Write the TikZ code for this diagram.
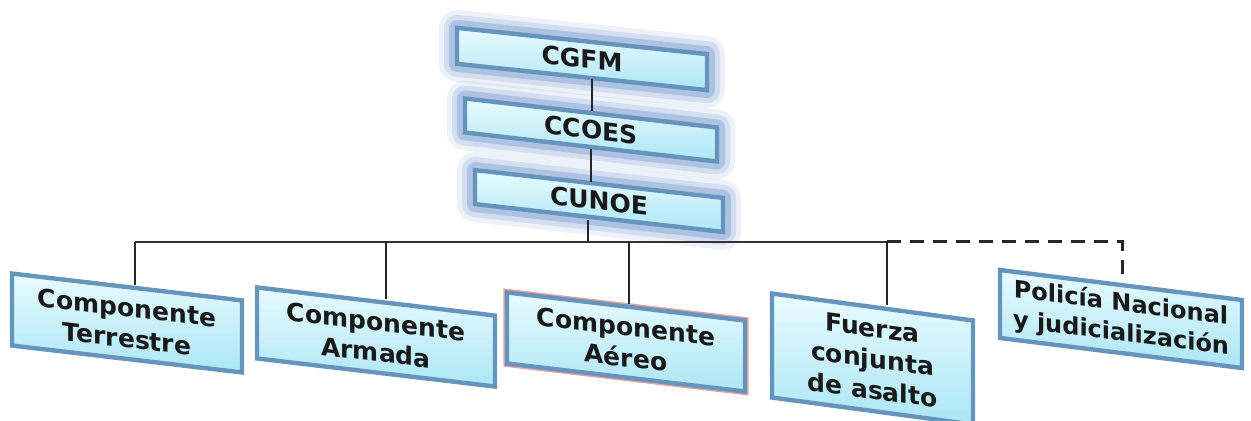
\documentclass[tikz,border=0pt]{standalone}
\usepackage{fontspec}
\setmainfont{DejaVu Sans}
\usetikzlibrary{calc}
\definecolor{boxedge}{HTML}{6595BD}
\definecolor{boxtop}{HTML}{E8FBFF}
\definecolor{boxbot}{HTML}{ACE6F5}
\definecolor{glowblue}{HTML}{6A90CC}
\definecolor{edgepink}{HTML}{E9A3A3}
\tikzset{
  unit/.style={draw=boxedge, line width=2.2pt, top color=boxtop, bottom color=boxbot,
    inner sep=0pt, align=center, text=black!90, yslant=#1,
    font=\bfseries\fontsize{12.5}{15.5}\selectfont},
  unit/.default=-0.115,
  glow/.style={
    preaction={draw=glowblue, line width=18pt, opacity=0.12, line join=round},
    preaction={draw=glowblue, line width=13pt, opacity=0.2, line join=round},
    preaction={draw=glowblue, line width=8pt, opacity=0.35, line join=round}},
  pinkrim/.style={preaction={draw=edgepink, line width=3.6pt}},
  link/.style={line width=1pt, black!85},
  bus/.style={line width=0.7pt, black!80},
  dashlink/.style={line width=1.5pt, black!85, dash pattern=on 7pt off 4.5pt},
}

\begin{document}
\begin{tikzpicture}[x=0.5pt,y=-0.5pt]
  \useasboundingbox (0,0) rectangle (1251,421);

  % command chain
  \node[unit=-0.105, glow, minimum width=125pt, minimum height=18pt] (cgfm) at (582,59) {CGFM};
  \node[unit, glow, minimum width=126pt, minimum height=17pt] (ccoes) at (591,130) {CCOES};
  \node[unit=-0.112, glow, minimum width=124pt, minimum height=17pt] (cunoe) at (599,201) {CUNOE};

  % components
  \node[unit=-0.117, minimum width=115pt, minimum height=36pt] (terr) at (127,323) {Componente\\Terrestre};
  \node[unit=-0.118, minimum width=119pt, minimum height=35.5pt] (armada) at (376,337) {Componente\\Armada};
  \node[unit=-0.118, pinkrim, minimum width=119pt, minimum height=35.5pt] (aereo) at (626,342) {Componente\\Aéreo};
  \node[unit=-0.134, minimum width=100.5pt, minimum height=52pt] (fuerza) at (872.5,359) {Fuerza\\conjunta\\de asalto};
  \node[unit=-0.124, minimum width=121pt, minimum height=34pt,
    font=\bfseries\fontsize{12}{15}\selectfont] (policia) at (1121,319) {Policía Nacional\\y judicialización};

  % connectors
  \coordinate (busL) at (135,242);
  \coordinate (busR) at (887,242);
  \coordinate (busP) at (1122,242);
  \draw[link] (592,0 |- cgfm.south) -- (592,0 |- ccoes.north);
  \draw[link] (591,0 |- ccoes.south) -- (591,0 |- cunoe.north);
  \draw[link] (588,0 |- cunoe.south) -- (588,0 |- busL);
  \draw[bus] (busL) -- (busR);
  \draw[link] (busL) -- (busL |- terr.north);
  \draw[link] (386,0 |- busL) -- (386,0 |- armada.north);
  \draw[link] (629,0 |- busL) -- (629,0 |- aereo.north);
  \draw[link] (busR) -- (busR |- fuerza.north);
  \draw[dashlink] (busR) -- (busP) -- (busP |- policia.north);
\end{tikzpicture}
\end{document}
